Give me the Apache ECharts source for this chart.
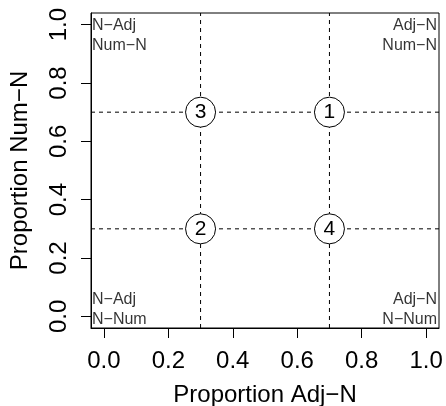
<!DOCTYPE html>
<html>
<head>
<meta charset="utf-8">
<script src="https://cdn.jsdelivr.net/npm/echarts@6/dist/echarts.min.js"></script>
<style>
  html, body { margin: 0; padding: 0; background: #fff; }
  #chart { width: 446px; height: 406px; }
</style>
</head>
<body>
<div id="chart"></div>
<script>
// axis ticks (both axes)
const tickValues = [0, 0.2, 0.4, 0.6, 0.8, 1.0];
// dashed reference lines
const refX = [0.3, 0.7];
const refY = [0.3, 0.7];
// numbered quadrant markers: [x, y, label]
const markers = [
  [0.7, 0.7, '1'],
  [0.3, 0.3, '2'],
  [0.3, 0.7, '3'],
  [0.7, 0.3, '4']
];
// corner annotations
const cornerTopLeft = ['N\u2212Adj', 'Num\u2212N'];
const cornerTopRight = ['Adj\u2212N', 'Num\u2212N'];
const cornerBottomLeft = ['N\u2212Adj', 'N\u2212Num'];
const cornerBottomRight = ['Adj\u2212N', 'N\u2212Num'];

const FONT = "'Liberation Sans', Arial, sans-serif";
const LO = -0.04, HI = 1.04; // R style 4% padding

const chart = echarts.init(document.getElementById('chart'), null, { renderer: 'canvas' });

/* 角标 label */
function cornerItem(x, y, lines, align, vAlign, pos) {
  return {
    value: [x, y],
    label: {
      show: true,
      formatter: lines.join('\n'),
      position: pos,
      align: align,
      verticalAlign: vAlign,
      fontSize: 16,
      lineHeight: 20,
      color: '#000',
      fontFamily: FONT
    }
  };
}

/* 虚线 series */
function refLine(points) {
  return {
    type: 'line',
    z: 1,
    silent: true,
    symbol: 'none',
    lineStyle: { color: '#000', width: 1, type: [4, 4] },
    data: points
  };
}

const axisCommon = {
  type: 'value',
  min: LO,
  max: HI,
  splitLine: { show: false },
  axisLine: { show: true, onZero: false, lineStyle: { color: '#000', width: 1 } },
  axisTick: { show: true, length: 10, customValues: tickValues, lineStyle: { color: '#000', width: 1 } },
  nameLocation: 'middle',
  nameTextStyle: { fontSize: 24, color: '#000', fontFamily: FONT }
};

const lineSeries = refX.map(v => refLine([[v, LO], [v, HI]]))
  .concat(refY.map(v => refLine([[LO, v], [HI, v]])));

const option = {
  animation: false,
  backgroundColor: '#fff',
  grid: {
    left: 91, right: 7, top: 13, bottom: 78,
    outerBoundsMode: 'none',
    containLabel: false,
    show: true, borderColor: '#000', borderWidth: 1, backgroundColor: 'transparent'
  },
  xAxis: Object.assign({}, axisCommon, {
    name: 'Proportion Adj\u2212N',
    nameGap: 55,
    axisLabel: {
      customValues: tickValues,
      formatter: v => v.toFixed(1),
      fontSize: 24, color: '#000', fontFamily: FONT, margin: 21
    }
  }),
  yAxis: Object.assign({}, axisCommon, {
    name: 'Proportion Num\u2212N',
    nameGap: 59,
    axisLabel: {
      customValues: tickValues,
      formatter: v => v.toFixed(1),
      rotate: 90,
      fontSize: 24, color: '#000', fontFamily: FONT, margin: 20
    }
  }),
  series: lineSeries.concat([
    {
      type: 'scatter',
      z: 5,
      symbol: 'circle',
      symbolSize: 30,
      itemStyle: { color: '#fff', borderColor: '#000', borderWidth: 1, opacity: 1 },
      label: {
        show: true,
        position: 'inside',
        formatter: p => p.value[2],
        fontSize: 21,
        color: '#000',
        fontFamily: FONT
      },
      data: markers
    },
    {
      type: 'scatter',
      z: 6,
      symbolSize: 0,
      silent: true,
      data: [
        cornerItem(LO, HI, cornerTopLeft, 'left', 'top', [1, 3]),
        cornerItem(HI, HI, cornerTopRight, 'right', 'top', [-2, 3]),
        cornerItem(LO, LO, cornerBottomLeft, 'left', 'bottom', [1, 2]),
        cornerItem(HI, LO, cornerBottomRight, 'right', 'bottom', [-2, 2])
      ]
    }
  ])
};

chart.setOption(option);
</script>
</body>
</html>
